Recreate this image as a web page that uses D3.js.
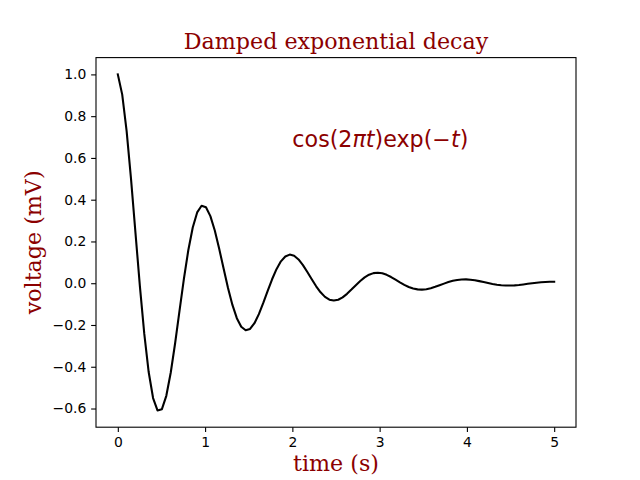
<!DOCTYPE html>
<html><head><meta charset="utf-8">
<script src="https://cdn.jsdelivr.net/npm/d3@7"></script>
<style>body{margin:0;background:#fff}svg{display:block}</style>
</head><body>
<svg id="c" width="640" height="480"></svg>
<script>
const times = [0.0000,0.0505,0.1010,0.1515,0.2020,0.2525,0.3030,0.3535,0.4040,0.4545,
0.5051,0.5556,0.6061,0.6566,0.7071,0.7576,0.8081,0.8586,0.9091,0.9596,
1.0101,1.0606,1.1111,1.1616,1.2121,1.2626,1.3131,1.3636,1.4141,1.4646,
1.5152,1.5657,1.6162,1.6667,1.7172,1.7677,1.8182,1.8687,1.9192,1.9697,
2.0202,2.0707,2.1212,2.1717,2.2222,2.2727,2.3232,2.3737,2.4242,2.4747,
2.5253,2.5758,2.6263,2.6768,2.7273,2.7778,2.8283,2.8788,2.9293,2.9798,
3.0303,3.0808,3.1313,3.1818,3.2323,3.2828,3.3333,3.3838,3.4343,3.4848,
3.5354,3.5859,3.6364,3.6869,3.7374,3.7879,3.8384,3.8889,3.9394,3.9899,
4.0404,4.0909,4.1414,4.1919,4.2424,4.2929,4.3434,4.3939,4.4444,4.4949,
4.5455,4.5960,4.6465,4.6970,4.7475,4.7980,4.8485,4.8990,4.9495,5.0000];
const voltage = [1.00000,0.90327,0.72790,0.49875,0.24261,-0.01233,-0.24156,-0.42526,-0.54983,-0.60903,
-0.60318,-0.53914,-0.42878,-0.28735,-0.13139,0.02230,0.15906,0.26719,0.33893,0.37076,
0.36347,0.32145,0.25218,0.16500,0.07015,-0.02242,-0.10391,-0.16746,-0.20859,-0.22546,
-0.21877,-0.19140,-0.14802,-0.09444,-0.03678,0.01892,0.06744,0.10473,0.12824,0.13698,
0.13156,0.11386,0.08675,0.05383,0.01882,-0.01466,-0.04349,-0.06532,-0.07871,-0.08313,
-0.07903,-0.06764,-0.05074,-0.03054,-0.00931,0.01080,0.02792,0.04067,0.04825,0.05040,
0.04743,0.04014,0.02963,0.01725,0.00437,-0.00769,-0.01784,-0.02528,-0.02955,-0.03053,
-0.02844,-0.02378,-0.01726,-0.00968,-0.00189,0.00534,0.01135,0.01568,0.01807,0.01847,
0.01703,0.01407,0.01003,0.00540,0.00068,-0.00364,-0.00720,-0.00971,-0.01103,-0.01116,
-0.01019,-0.00831,-0.00581,-0.00298,-0.00014,0.00245,0.00455,0.00600,0.00673,0.00674];
const xTicks = [0,1,2,3,4,5];
const yTicks = [-0.6,-0.4,-0.2,0.0,0.2,0.4,0.6,0.8,1.0];
const titleText = "Damped exponential decay";
const xLabelText = "time (s)";
const yLabelText = "voltage (mV)";

const svg = d3.select("#c");
const L = 96, R = 576, T = 57.6, B = 427.2;
const dark = "#8b0000";
const xmin = d3.min(times), xmax = d3.max(times);
const ymin = d3.min(voltage), ymax = d3.max(voltage);
const xm = (xmax - xmin) * 0.05, ym = (ymax - ymin) * 0.05;
const x = d3.scaleLinear().domain([xmin - xm, xmax + xm]).range([L, R]);
const y = d3.scaleLinear().domain([ymin - ym, ymax + ym]).range([B, T]);

const fmtY = d => (d < 0 ? "\u2212" : "") + Math.abs(d).toFixed(1);

const xAxis = svg.append("g").attr("transform", `translate(0,${B})`)
  .call(d3.axisBottom(x).tickValues(xTicks).tickFormat(d3.format("d")).tickSize(4.86).tickPadding(4.86));
const yAxis = svg.append("g").attr("transform", `translate(${L},0)`)
  .call(d3.axisLeft(y).tickValues(yTicks).tickFormat(fmtY).tickSize(4.86).tickPadding(4.86));
[xAxis, yAxis].forEach(g => {
  g.select(".domain").remove();
  g.selectAll(".tick line").attr("stroke", "#000").attr("stroke-width", 1.1);
  g.selectAll(".tick text").attr("fill", "#000").style("font-family", "DejaVu Sans").style("font-size", "13.9px");
});

svg.append("path").datum(times.map((t, i) => [t, voltage[i]]))
  .attr("fill", "none").attr("stroke", "#000").attr("stroke-width", 2.08)
  .attr("stroke-linejoin", "round").attr("stroke-linecap", "square")
  .attr("d", d3.line().x(d => x(d[0])).y(d => y(d[1])));

svg.append("rect").attr("x", L).attr("y", T).attr("width", R - L).attr("height", B - T)
  .attr("fill", "none").attr("stroke", "#000").attr("stroke-width", 1.1);

svg.append("text").attr("x", (L + R) / 2).attr("y", T - 8.3).attr("text-anchor", "middle")
  .attr("fill", dark).style("font-family", "DejaVu Serif").style("font-size", "22.2px").text(titleText);
svg.append("text").attr("x", (L + R) / 2).attr("y", 470.5).attr("text-anchor", "middle")
  .attr("fill", dark).style("font-family", "DejaVu Serif").style("font-size", "22.2px").text(xLabelText);
svg.append("text").attr("transform", `translate(41,${(T + B) / 2}) rotate(-90)`).attr("text-anchor", "middle")
  .attr("fill", dark).style("font-family", "DejaVu Serif").style("font-size", "22.2px").text(yLabelText);

const m = svg.append("text").attr("x", x(2)).attr("y", y(0.65))
  .attr("fill", dark).style("font-family", "DejaVu Sans").style("font-size", "22.2px");
[["cos(2",""],["\u03c0t","italic"],[")exp(\u2212",""],["t","italic"],[")",""]].forEach(([s, st]) => {
  m.append("tspan").style("font-style", st || "normal").text(s);
});
</script>
</body></html>
